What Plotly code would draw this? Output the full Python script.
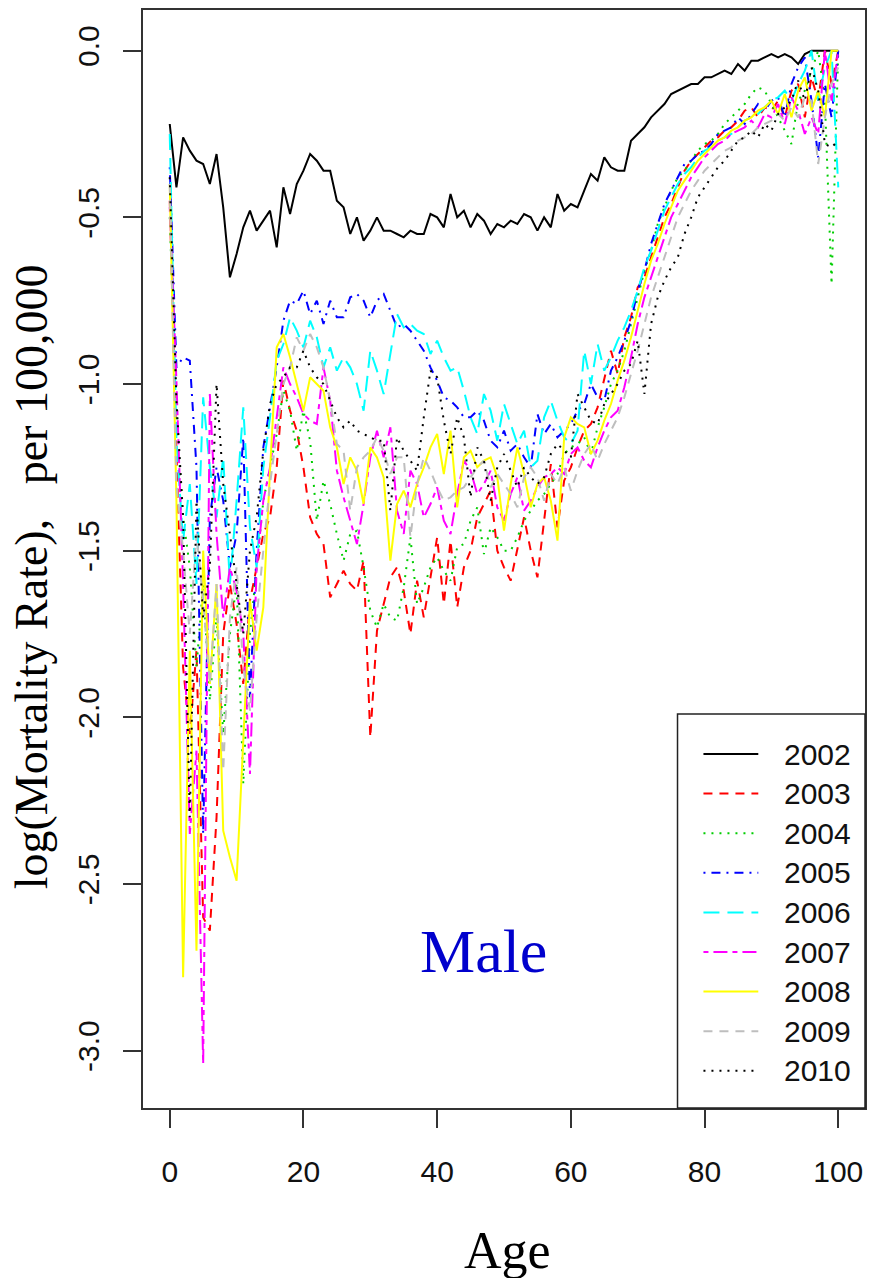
import plotly.graph_objects as go

ages = list(range(101))
years = ["2002", "2003", "2004", "2005", "2006", "2007", "2008", "2009", "2010"]
colors = ["#000000", "#FF0000", "#00CD00", "#0000FF", "#00FFFF", "#FF00FF", "#FFFF00", "#BEBEBE", "#000000"]
dashes = ["solid", "9px,7px", "2px,6px", "2px,6px,9px,6px", "16px,8px", "5px,5px,14px,5px", "solid", "9px,7px", "2px,6px"]

r2002 = [-0.22, -0.41, -0.26, -0.30, -0.33, -0.34, -0.40, -0.31, -0.47, -0.68,
         -0.61, -0.53, -0.48, -0.54, -0.51, -0.48, -0.59, -0.41, -0.49, -0.40,
         -0.36, -0.31, -0.33, -0.36, -0.36, -0.45, -0.47, -0.55, -0.50, -0.57,
         -0.54, -0.50, -0.54, -0.54, -0.55, -0.56, -0.54, -0.55, -0.55, -0.49,
         -0.50, -0.53, -0.43, -0.50, -0.48, -0.53, -0.49, -0.51, -0.55, -0.52,
         -0.53, -0.51, -0.52, -0.49, -0.50, -0.54, -0.50, -0.53, -0.43, -0.48,
         -0.46, -0.47, -0.42, -0.37, -0.39, -0.32, -0.35, -0.36, -0.36, -0.27,
         -0.25, -0.23, -0.20, -0.18, -0.16, -0.13, -0.12, -0.11, -0.10, -0.10,
         -0.08, -0.08, -0.07, -0.06, -0.07, -0.04, -0.06, -0.03, -0.03, -0.02,
         -0.01, -0.02, -0.01, -0.02, -0.04, -0.01, 0.0, 0.0, 0.0, 0.0, 0.0]

r2003 = [-0.45, -1.20, -1.85, -2.05, -1.80, -2.60, -2.64, -2.30, -1.75, -1.60,
         -1.72, -1.90, -1.65, -1.55, -1.45, -1.40, -1.25, -0.99, -1.08, -1.14,
         -1.25, -1.40, -1.45, -1.48, -1.64, -1.60, -1.56, -1.60, -1.62, -1.53,
         -2.06, -1.74, -1.66, -1.58, -1.55, -1.62, -1.75, -1.59, -1.70, -1.58,
         -1.46, -1.66, -1.47, -1.67, -1.55, -1.50, -1.40, -1.36, -1.32, -1.50,
         -1.55, -1.59, -1.50, -1.40, -1.50, -1.58, -1.41, -1.24, -1.43, -1.29,
         -1.25, -1.19, -1.14, -1.12, -1.07, -0.98, -0.90, -0.97, -0.86, -0.80,
         -0.71, -0.68, -0.62, -0.56, -0.50, -0.46, -0.41, -0.36, -0.33, -0.31,
         -0.29, -0.27, -0.26, -0.24, -0.23, -0.21, -0.18, -0.17, -0.20, -0.17,
         -0.18, -0.15, -0.20, -0.12, -0.10, -0.20, -0.08, -0.15, 0.0, -0.10, 0.0]

r2004 = [-0.50, -1.10, -1.40, -1.55, -1.85, -1.60, -1.95, -1.70, -2.05, -1.75,
         -1.60, -2.20, -1.75, -1.55, -1.35, -1.25, -1.15, -1.02, -1.08, -1.20,
         -1.08, -1.17, -1.41, -1.29, -1.36, -1.45, -1.53, -1.45, -1.44, -1.55,
         -1.68, -1.73, -1.66, -1.70, -1.71, -1.61, -1.46, -1.66, -1.61, -1.55,
         -1.52, -1.56, -1.59, -1.49, -1.48, -1.41, -1.37, -1.51, -1.43, -1.46,
         -1.50, -1.50, -1.46, -1.41, -1.38, -1.35, -1.33, -1.30, -1.27, -1.21,
         -1.19, -1.18, -1.16, -1.21, -1.13, -1.07, -1.00, -0.96, -0.90, -0.82,
         -0.74, -0.66, -0.60, -0.52, -0.47, -0.42, -0.38, -0.36, -0.33, -0.30,
         -0.28, -0.27, -0.25, -0.22, -0.20, -0.18, -0.16, -0.13, -0.11, -0.12,
         -0.16, -0.20, -0.24, -0.28, -0.15, -0.12, -0.06, 0.0, -0.15, -0.70, 0.0]

r2005 = [-0.35, -0.95, -0.92, -0.93, -1.25, -2.35, -1.40, -1.25, -1.35, -1.55,
         -1.45, -1.16, -1.94, -1.50, -1.19, -1.07, -0.95, -0.81, -0.75, -0.76,
         -0.72, -0.79, -0.75, -0.82, -0.75, -0.80, -0.80, -0.74, -0.73, -0.75,
         -0.80, -0.75, -0.73, -0.78, -0.83, -0.82, -0.84, -0.87, -0.90, -0.95,
         -0.99, -1.04, -1.05, -1.07, -1.10, -1.10, -1.08, -1.11, -1.17, -1.19,
         -1.14, -1.20, -1.18, -1.22, -1.25, -1.09, -1.15, -1.12, -1.16, -1.14,
         -1.12, -1.08, -1.06, -1.00, -1.04, -1.05, -0.96, -0.92, -0.87, -0.81,
         -0.72, -0.66, -0.58, -0.52, -0.46, -0.42, -0.38, -0.34, -0.33, -0.31,
         -0.30, -0.28, -0.25, -0.24, -0.23, -0.20, -0.22, -0.19, -0.16, -0.18,
         -0.15, -0.14, -0.20, -0.10, -0.05, -0.02, -0.15, -0.32, -0.10, -0.20, 0.0]

r2006 = [-0.25, -1.17, -1.47, -1.30, -1.60, -1.04, -1.25, -1.40, -1.22, -1.60,
         -1.35, -1.07, -1.43, -1.55, -1.25, -1.10, -0.93, -0.88, -0.80, -0.84,
         -0.89, -0.81, -0.86, -0.95, -0.89, -0.96, -0.92, -0.95, -1.00, -1.08,
         -0.90, -0.96, -1.03, -0.91, -0.79, -0.83, -0.82, -0.84, -0.85, -0.91,
         -0.87, -0.92, -0.96, -0.95, -1.02, -1.10, -1.15, -1.03, -1.08, -1.17,
         -1.06, -1.12, -1.18, -1.14, -1.25, -1.23, -1.10, -1.05, -1.11, -1.16,
         -1.18, -1.14, -0.90, -1.00, -0.88, -0.96, -0.92, -0.87, -0.83, -0.78,
         -0.72, -0.65, -0.60, -0.54, -0.48, -0.44, -0.40, -0.37, -0.35, -0.32,
         -0.30, -0.29, -0.27, -0.26, -0.25, -0.23, -0.21, -0.20, -0.19, -0.17,
         -0.15, -0.14, -0.12, -0.15, -0.10, -0.06, 0.0, -0.15, -0.05, 0.0, -0.41]

r2007 = [-0.47, -0.99, -1.60, -2.35, -2.10, -3.04, -1.03, -1.45, -1.70, -1.55,
         -1.62, -1.75, -2.17, -1.55, -1.35, -1.25, -1.10, -0.95, -1.00, -1.04,
         -1.09, -1.11, -1.12, -0.95, -1.05, -1.26, -1.34, -1.41, -1.48, -1.36,
         -1.22, -1.14, -1.22, -1.13, -1.38, -1.45, -1.26, -1.30, -1.40, -1.36,
         -1.31, -1.41, -1.45, -1.33, -1.23, -1.26, -1.33, -1.30, -1.26, -1.37,
         -1.41, -1.33, -1.28, -1.38, -1.35, -1.31, -1.28, -1.27, -1.25, -1.27,
         -1.21, -1.19, -1.23, -1.25, -1.19, -1.14, -1.10, -1.08, -1.01, -0.92,
         -0.82, -0.74, -0.68, -0.62, -0.56, -0.50, -0.46, -0.42, -0.38, -0.35,
         -0.32, -0.30, -0.28, -0.27, -0.25, -0.24, -0.23, -0.21, -0.23, -0.19,
         -0.20, -0.16, -0.22, -0.14, -0.18, -0.25, -0.20, -0.25, 0.0, -0.15, 0.0]

r2008 = [-0.40, -1.35, -2.78, -1.80, -2.70, -1.50, -1.90, -1.60, -2.34, -2.42,
         -2.49, -2.09, -1.65, -1.80, -1.67, -1.26, -0.89, -0.85, -0.92, -1.00,
         -1.08, -0.98, -1.00, -1.02, -1.13, -1.19, -1.30, -1.22, -1.26, -1.36,
         -1.19, -1.22, -1.28, -1.53, -1.36, -1.32, -1.37, -1.30, -1.25, -1.19,
         -1.15, -1.27, -1.14, -1.37, -1.22, -1.20, -1.25, -1.23, -1.22, -1.28,
         -1.44, -1.30, -1.19, -1.27, -1.37, -1.30, -1.28, -1.35, -1.47, -1.16,
         -1.10, -1.12, -1.13, -1.21, -1.17, -1.11, -1.06, -0.99, -0.93, -0.86,
         -0.78, -0.70, -0.63, -0.58, -0.52, -0.47, -0.42, -0.39, -0.36, -0.33,
         -0.31, -0.29, -0.27, -0.26, -0.24, -0.23, -0.21, -0.20, -0.18, -0.17,
         -0.15, -0.19, -0.13, -0.20, -0.12, -0.08, -0.18, -0.12, -0.20, 0.0, 0.0]

r2009 = [-0.40, -1.30, -1.50, -1.75, -1.45, -1.65, -1.90, -1.60, -2.16, -1.70,
         -1.55, -1.85, -1.98, -1.70, -1.50, -1.30, -1.15, -1.00, -0.95, -0.86,
         -0.90, -0.85, -0.89, -0.95, -1.05, -1.18, -1.20, -1.38, -1.25, -1.22,
         -1.20, -1.16, -1.20, -1.27, -1.22, -1.22, -1.46, -1.30, -1.22, -1.26,
         -1.31, -1.35, -1.34, -1.32, -1.31, -1.28, -1.25, -1.23, -1.31, -1.27,
         -1.30, -1.33, -1.37, -1.28, -1.25, -1.28, -1.35, -1.27, -1.30, -1.25,
         -1.32, -1.26, -1.21, -1.18, -1.23, -1.18, -1.14, -1.10, -1.04, -0.97,
         -0.90, -0.82, -0.74, -0.68, -0.62, -0.56, -0.50, -0.46, -0.42, -0.39,
         -0.36, -0.34, -0.32, -0.30, -0.29, -0.27, -0.26, -0.25, -0.23, -0.22,
         -0.21, -0.19, -0.21, -0.17, -0.20, -0.14, -0.15, -0.34, -0.20, -0.10, -0.05]

r2010 = [-0.38, -1.05, -1.40, -2.30, -1.35, -1.70, -1.55, -1.00, -1.30, -1.45,
         -1.60, -1.75, -1.50, -1.40, -1.20, -1.06, -1.00, -0.98, -0.95, -0.95,
         -0.90, -0.95, -0.98, -1.00, -1.05, -1.10, -1.13, -1.11, -1.14, -1.15,
         -1.16, -1.17, -1.17, -1.38, -1.16, -1.20, -1.23, -1.26, -1.10, -0.96,
         -0.98, -1.11, -1.21, -1.10, -1.16, -1.34, -1.19, -1.23, -1.35, -1.25,
         -1.21, -1.26, -1.31, -1.25, -1.28, -1.30, -1.28, -1.21, -1.18, -1.20,
         -1.22, -1.03, -1.07, -1.11, -1.12, -1.06, -1.03, -1.00, -0.96, -0.94,
         -0.87, -1.03, -0.82, -0.74, -0.69, -0.65, -0.62, -0.55, -0.50, -0.44,
         -0.41, -0.38, -0.35, -0.33, -0.30, -0.27, -0.26, -0.24, -0.26, -0.22,
         -0.24, -0.19, -0.17, -0.15, -0.09, -0.15, -0.05, -0.12, -0.28, -0.29, -0.27]

series = [r2002, r2003, r2004, r2005, r2006, r2007, r2008, r2009, r2010]

xticks = [0, 20, 40, 60, 80, 100]
yticks = [-3.0, -2.5, -2.0, -1.5, -1.0, -0.5, 0.0]
yticktext = ["-3.0", "-2.5", "-2.0", "-1.5", "-1.0", "-0.5", "0.0"]

SANS = "Liberation Sans, Arial, sans-serif"
SERIF = "Liberation Serif, Times New Roman, serif"

fig = go.Figure()
for yr, vals, col, dsh in zip(years, series, colors, dashes):
    fig.add_trace(go.Scatter(x=ages, y=vals, mode="lines", name=yr,
                             line=dict(color=col, width=2, dash=dsh),
                             showlegend=False))

# manual legend (R style box at bottom right)
W, H = 724.0, 1098.0
def px_x(p):
    return (p - 143) / W
def px_y(p):
    return (1108 - p) / H

shapes = [dict(type="rect", xref="paper", yref="paper",
               x0=px_x(679), x1=1.0, y0=0.0, y1=px_y(714),
               line=dict(color="#222222", width=1.5), fillcolor="white", layer="above")]
annotations = []
for i, (yr, col, dsh) in enumerate(zip(years, colors, dashes)):
    yc = px_y(754 + 39.6 * i)
    shapes.append(dict(type="line", xref="paper", yref="paper",
                       x0=px_x(705), x1=px_x(760), y0=yc, y1=yc,
                       line=dict(color=col, width=2, dash=dsh), layer="above"))
    annotations.append(dict(xref="paper", yref="paper", x=px_x(784), y=yc,
                            text=yr, showarrow=False, xanchor="left", yanchor="middle",
                            font=dict(family=SANS, size=30, color="#111111")))

annotations.append(dict(x=47, y=-2.70, xref="x", yref="y", text="Male", showarrow=False,
                        font=dict(family=SERIF, size=62, color="#0000CD")))
annotations.append(dict(xref="paper", yref="paper", x=px_x(509), y=px_y(1250),
                        text="Age", showarrow=False, xanchor="center", yanchor="middle",
                        font=dict(family=SERIF, size=52, color="black")))
annotations.append(dict(xref="paper", yref="paper", x=px_x(31), y=px_y(577),
                        text="log(Mortality Rate),&nbsp;&nbsp; per 100,000", textangle=-90,
                        showarrow=False, xanchor="center", yanchor="middle",
                        font=dict(family=SERIF, size=46, color="black")))

fig.update_layout(
    width=870, height=1278,
    margin=dict(l=143, r=3, t=10, b=170),
    paper_bgcolor="white", plot_bgcolor="white",
    shapes=shapes, annotations=annotations,
    showlegend=False,
)
fig.update_xaxes(range=[-4, 104], tickvals=xticks, ticktext=[str(t) for t in xticks],
                 ticks="outside", ticklen=18, tickwidth=2, tickcolor="#333333",
                 showline=True, mirror=True, linecolor="#333333", linewidth=2,
                 showgrid=False, zeroline=False, ticklabelstandoff=18,
                 tickfont=dict(family=SANS, size=30, color="#111111"))
fig.update_yaxes(range=[-3.172, 0.122], tickvals=yticks, ticktext=yticktext,
                 ticks="outside", ticklen=18, tickwidth=2, tickcolor="#333333",
                 showline=True, mirror=True, linecolor="#333333", linewidth=2,
                 showgrid=False, zeroline=False, tickangle=-90, ticklabelstandoff=12,
                 tickfont=dict(family=SANS, size=30, color="#111111"))

fig.write_html("out.html")
